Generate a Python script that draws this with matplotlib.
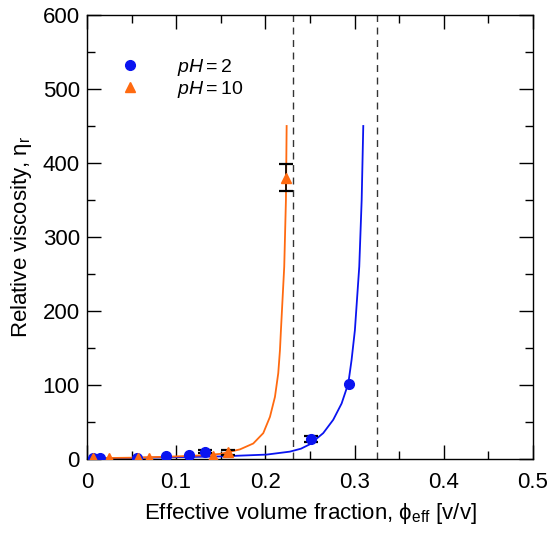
import matplotlib
matplotlib.use("Agg")
import matplotlib.pyplot as plt
from matplotlib.ticker import MultipleLocator

plt.rcParams['font.family'] = ['Liberation Sans', 'DejaVu Sans']
plt.rcParams['mathtext.fontset'] = 'custom'
plt.rcParams['mathtext.rm'] = 'Liberation Sans'
plt.rcParams['mathtext.it'] = 'Liberation Sans:italic'

# measured points, pH 2
phi_ph2 = [0.007, 0.0146, 0.0557, 0.0886, 0.1144, 0.132, 0.251, 0.2937]
eta_ph2 = [1, 1, 2, 4, 6, 10, 27, 102]
# points of pH 2 that carry error bars
phi_ph2_eb = [0.132, 0.251]
eta_ph2_eb = [10, 27]
err_ph2_eb = [2, 4]

# measured points, pH 10
phi_ph10 = [0.0064, 0.0247, 0.0568, 0.0699, 0.1416, 0.1584, 0.2231]
eta_ph10 = [1, 1, 1.5, 2, 4, 9, 380]
phi_ph10_eb = [0.1584, 0.2231]
eta_ph10_eb = [9, 380]
err_ph10_eb = [3, 18]

# fitted curves
fit_phi_ph2 = [0.0, 0.05, 0.1, 0.149, 0.2015, 0.2276, 0.24, 0.25, 0.2649, 0.2761,
               0.2855, 0.293, 0.2967, 0.3004, 0.3053, 0.308, 0.3098]
fit_eta_ph2 = [1, 1.5, 2.5, 3.5, 6, 10, 14, 20, 35, 53, 75, 102, 134, 174,
               260, 350, 450]
fit_phi_ph10 = [0.0, 0.05, 0.1, 0.13, 0.15, 0.1715, 0.1865, 0.1977, 0.2052,
                0.2108, 0.2145, 0.2164, 0.2175, 0.2212, 0.2231, 0.2239]
fit_eta_ph10 = [1, 1.8, 3.5, 5, 7, 13, 21, 35, 57, 84, 116, 147, 174, 260,
                350, 450]

# maximum packing fractions (dashed)
phi_max = [0.231, 0.325]

blue = '#0a14f0'
orange = '#ff6a10'

fig = plt.figure(figsize=(5.5, 5.35), dpi=100)
ax = fig.add_axes([0.158, 0.142, 0.811, 0.83])

for pm in phi_max:
    ax.axvline(pm, color='#333333', lw=1.0, ls=(0, (5, 4)), zorder=1)

ax.plot(fit_phi_ph2, fit_eta_ph2, color=blue, lw=1.3, zorder=2)
ax.plot(fit_phi_ph10, fit_eta_ph10, color=orange, lw=1.3, zorder=2)

ax.errorbar(phi_ph2_eb, eta_ph2_eb, yerr=err_ph2_eb, fmt='none', ecolor='black',
            elinewidth=1.2, capsize=5, capthick=1.6, zorder=3)
ax.errorbar(phi_ph10_eb, eta_ph10_eb, yerr=err_ph10_eb, fmt='none', ecolor='black',
            elinewidth=1.2, capsize=5, capthick=1.6, zorder=3)
ax.plot(phi_ph2, eta_ph2, 'o', color=blue, ms=7, ls='none', zorder=4,
        label=r'$pH = 2$')
ax.plot(phi_ph10, eta_ph10, '^', color=orange, ms=7, ls='none', zorder=4,
        label=r'$pH = 10$')

ax.set_xlim(0, 0.5)
ax.set_ylim(0, 600)
ax.xaxis.set_minor_locator(MultipleLocator(0.05))
ax.yaxis.set_major_locator(MultipleLocator(100))
ax.yaxis.set_minor_locator(MultipleLocator(50))
ax.set_xticks([0, 0.1, 0.2, 0.3, 0.4, 0.5])
ax.set_xticklabels(['0', '0.1', '0.2', '0.3', '0.4', '0.5'])
ax.tick_params(which='both', direction='in', top=True, right=True,
               labelsize=16, width=1.0)
ax.tick_params(which='major', length=10)
ax.tick_params(which='minor', length=5.5)
ax.tick_params(axis='x', which='major', pad=9)
ax.tick_params(axis='y', which='major', pad=5)
for s in ax.spines.values():
    s.set_linewidth(1.0)

ax.set_xlabel('Effective volume fraction, ϕ$_{\\mathrm{eff}}$ [v/v]', fontsize=16,
              labelpad=6)
ax.set_ylabel('Relative viscosity, η$_{\\mathrm{r}}$', fontsize=16, labelpad=6)

ax.legend(loc='upper left', bbox_to_anchor=(0.014, 0.945), frameon=False,
          fontsize=14, handletextpad=1.4, labelspacing=0.05)

fig.savefig('out.png', dpi=100)
